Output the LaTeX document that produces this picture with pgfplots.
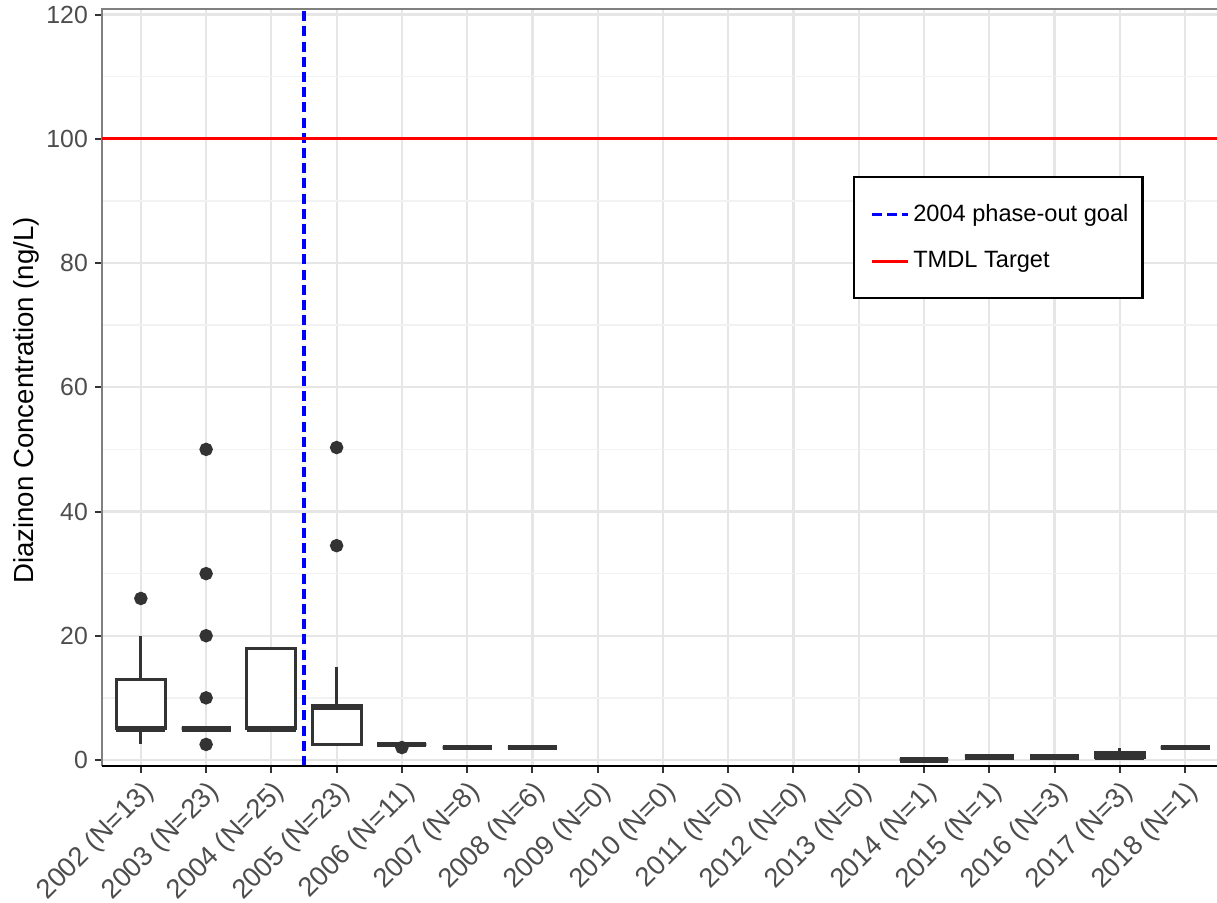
\documentclass[border=0pt]{standalone}
\usepackage{pgfplots}
\pgfplotsset{compat=1.18}
\usepgfplotslibrary{statistics}
\usepackage{fontspec}
\setmainfont{Liberation Sans}

\definecolor{boxline}{HTML}{333333}
\definecolor{ticktext}{HTML}{4D4D4D}
\definecolor{gridmajor}{HTML}{E6E6E6}
\definecolor{gridminor}{HTML}{F2F2F2}
\definecolor{framegray}{HTML}{808080}

\pgfplotsset{
  yearbox/.style={
    draw=boxline, fill=white, line width=1.5pt, solid,
    mark=*, mark size=2.6pt, mark options={fill=boxline, draw=none},
    boxplot/draw direction=y,
    boxplot/box extend=0.75,
    boxplot/whisker extend=0,
    boxplot/every median/.style={line width=2.9pt},
    forget plot,
  },
}

\begin{document}
\begin{tikzpicture}
\fill[white] (-50.85pt,-68.5pt) rectangle (557.65pt,383pt);
\useasboundingbox (-50.85pt,-68.5pt) rectangle (557.65pt,383pt);
\begin{axis}[
  scale only axis,
  width=557.65pt, height=378.5pt,
  xmin=0.4, xmax=17.49,
  ymin=-0.97, ymax=120.9,
  clip=false,
  axis line style={draw=none},
  tick pos=left,
  tick align=outside,
  major tick length=3.4pt,
  minor tick length=0pt,
  tick style={color=boxline, line width=1pt},
  xtick={1,...,17},
  xticklabels={2002 (N=13),2003 (N=23),2004 (N=25),2005 (N=23),2006 (N=11),
    2007 (N=8),2008 (N=6),2009 (N=0),2010 (N=0),2011 (N=0),2012 (N=0),
    2013 (N=0),2014 (N=1),2015 (N=1),2016 (N=3),2017 (N=3),2018 (N=1)},
  ytick={0,20,...,120},
  minor ytick={10,30,50,70,90,110},
  xmajorgrids, ymajorgrids, yminorgrids,
  major grid style={color=gridmajor, line width=1.1pt},
  minor grid style={color=gridminor, line width=0.8pt},
  /pgf/number format/assume math mode=true,
  xticklabel style={rotate=45, anchor=north east, text=ticktext,
    font=\fontsize{13.6}{16}\selectfont, inner sep=2pt},
  yticklabel style={text=ticktext, font=\fontsize{12.4}{14}\selectfont},
  ylabel={Diazinon Concentration (ng/L)},
  ylabel style={at={(rel axis cs:0,0.483)}, anchor=base,
    yshift=34pt, font=\fontsize{13.8}{16}\selectfont, text=black},
  legend style={at={(rel axis cs:0.6736,0.779)}, anchor=north west,
    draw=black, line width=1.1pt, fill=white,
    font=\fontsize{11.8}{14}\selectfont,
    inner xsep=5pt, inner ysep=11.5pt, row sep=9.5pt,
    cells={anchor=west}},
  legend image code/.code={\path (0pt,0pt); \draw[#1] (3pt,0pt) -- (21pt,0pt);},
]

% panel frame: grey left and top edges, black baseline
\draw[framegray, line width=1pt] (rel axis cs:0,0) -- (rel axis cs:0,1) -- (rel axis cs:1,1);

% 2002
\addplot[yearbox, boxplot prepared={draw position=1,
  lower whisker=2.5, lower quartile=5, median=5, upper quartile=13, upper whisker=20}]
  coordinates {(1,26)};
% 2003
\addplot[yearbox, boxplot prepared={draw position=2,
  lower whisker=5, lower quartile=5, median=5, upper quartile=5, upper whisker=5}]
  coordinates {(2,50) (2,30) (2,20) (2,10) (2,2.5)};
% 2004
\addplot[yearbox, boxplot prepared={draw position=3,
  lower whisker=5, lower quartile=5, median=5, upper quartile=18, upper whisker=18}]
  coordinates {};
% 2005
\addplot[yearbox, boxplot prepared={draw position=4,
  lower whisker=2.5, lower quartile=2.5, median=8.5, upper quartile=8.75, upper whisker=15}]
  coordinates {(4,50.3) (4,34.5)};
% 2006
\addplot[yearbox, boxplot prepared={draw position=5,
  lower whisker=2.5, lower quartile=2.5, median=2.5, upper quartile=2.5, upper whisker=2.5}]
  coordinates {(5,2.0)};
% 2007
\addplot[yearbox, boxplot prepared={draw position=6,
  lower whisker=2, lower quartile=2, median=2, upper quartile=2, upper whisker=2}]
  coordinates {};
% 2008
\addplot[yearbox, boxplot prepared={draw position=7,
  lower whisker=2, lower quartile=2, median=2, upper quartile=2, upper whisker=2}]
  coordinates {};
% 2014
\addplot[yearbox, boxplot prepared={draw position=13,
  lower whisker=0, lower quartile=0, median=0, upper quartile=0, upper whisker=0}]
  coordinates {};
% 2015
\addplot[yearbox, boxplot prepared={draw position=14,
  lower whisker=0.5, lower quartile=0.5, median=0.5, upper quartile=0.5, upper whisker=0.5}]
  coordinates {};
% 2016
\addplot[yearbox, boxplot prepared={draw position=15,
  lower whisker=0.5, lower quartile=0.5, median=0.5, upper quartile=0.5, upper whisker=0.5}]
  coordinates {};
% 2017
\addplot[yearbox, boxplot prepared={draw position=16,
  lower whisker=0.25, lower quartile=0.375, median=0.5, upper quartile=1.25, upper whisker=2}]
  coordinates {};
% 2018
\addplot[yearbox, boxplot prepared={draw position=17,
  lower whisker=2, lower quartile=2, median=2, upper quartile=2, upper whisker=2}]
  coordinates {};

% reference lines
\addplot[color=blue, line width=1.6pt, dash pattern=on 5pt off 2.6pt]
  coordinates {(3.5,-0.97) (3.5,120.9)};
\addlegendentry{2004 phase-out goal}
\addplot[color=red, line width=1.5pt]
  coordinates {(0.4,100) (17.49,100)};
\addlegendentry{TMDL Target}

\draw[black, line width=1.3pt] (rel axis cs:0,0) -- (rel axis cs:1,0);
\end{axis}
\end{tikzpicture}
\end{document}
